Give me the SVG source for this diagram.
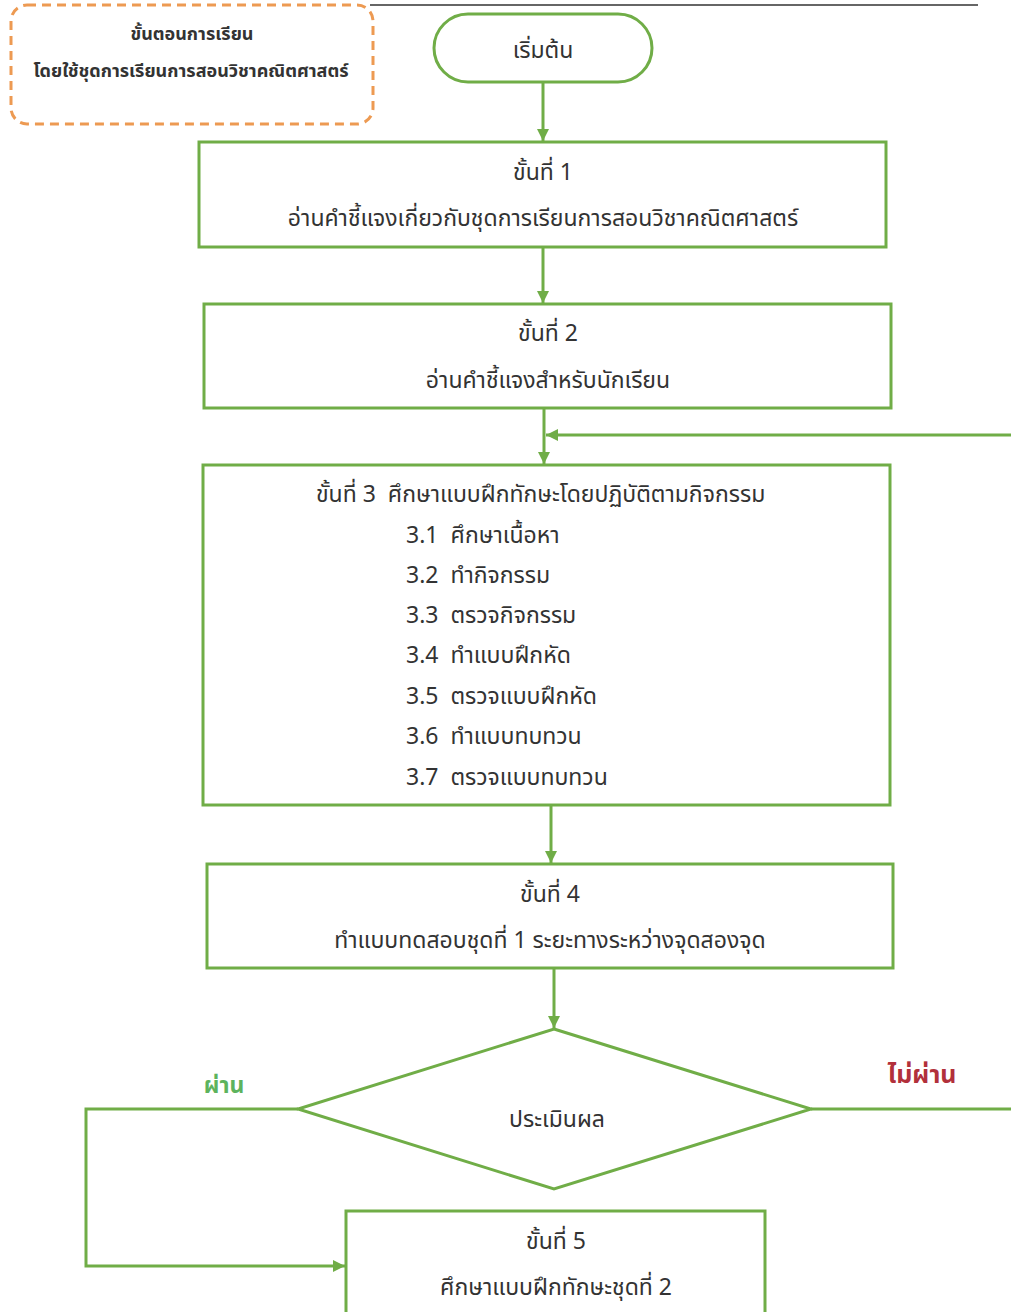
<svg xmlns="http://www.w3.org/2000/svg" width="1011" height="1312" viewBox="0 0 1011 1312">
<style>
.box{fill:none;stroke:#70AD47;stroke-width:3}
.ln{fill:none;stroke:#70AD47;stroke-width:3}
.t{font-family:"Noto Sans Thai","Noto Sans","DejaVu Sans",sans-serif;font-size:23px;fill:#333;}
.c{text-anchor:middle}
.h{font-family:"Noto Sans Thai","Noto Sans","DejaVu Sans",sans-serif;font-size:18px;font-weight:bold;fill:#333;text-anchor:middle}
</style>
<defs>
<marker id="ah" viewBox="0 0 10 10" refX="10" refY="5" markerWidth="4" markerHeight="4" orient="auto" markerUnits="strokeWidth">
<path d="M0,0 L10,5 L0,10 z" fill="#70AD47"/>
</marker>
</defs>
<rect width="1011" height="1312" fill="#fff"/>
<line x1="370" y1="5" x2="978" y2="5" stroke="#666" stroke-width="2"/>
<g id="title">
<rect x="11" y="5" width="362" height="119" rx="16" fill="none" stroke="#ED9A52" stroke-width="3" stroke-dasharray="9,6"/>
<text class="h" x="192" y="40">ขั้นตอนการเรียน</text>
<text class="h" x="191" y="77">โดยใช้ชุดการเรียนการสอนวิชาคณิตศาสตร์</text>
</g>
<g id="connectors">
<line class="ln" x1="543" y1="82" x2="543" y2="141" marker-end="url(#ah)"/>
<line class="ln" x1="543" y1="247" x2="543" y2="303" marker-end="url(#ah)"/>
<line class="ln" x1="544" y1="408" x2="544" y2="464" marker-end="url(#ah)"/>
<line class="ln" x1="1011" y1="435" x2="546" y2="435" marker-end="url(#ah)"/>
<line class="ln" x1="551" y1="805" x2="551" y2="863" marker-end="url(#ah)"/>
<line class="ln" x1="554" y1="968" x2="554" y2="1028" marker-end="url(#ah)"/>
<polyline class="ln" points="298,1109 86,1109 86,1266 345,1266" marker-end="url(#ah)"/>
<line class="ln" x1="811" y1="1109" x2="1011" y2="1109"/>
<text x="224" y="1093" font-family="Noto Sans Thai,Noto Sans,sans-serif" font-size="23" font-weight="bold" fill="#5DB35D" text-anchor="middle">ผ่าน</text>
<text x="922" y="1083" font-family="Noto Sans Thai,Noto Sans,sans-serif" font-size="25" font-weight="bold" fill="#B2303B" text-anchor="middle">ไม่ผ่าน</text>
</g>
<g id="start">
<rect class="box" x="434" y="14" width="218" height="68" rx="34"/>
<text class="t c" x="543" y="58" font-size="26">เริ่มต้น</text>
</g>
<g id="step1">
<rect class="box" x="199" y="142" width="687" height="105"/>
<text class="t c" x="543" y="180">ขั้นที่ 1</text>
<text class="t c" x="543" y="226">อ่านคำชี้แจงเกี่ยวกับชุดการเรียนการสอนวิชาคณิตศาสตร์</text>
</g>
<g id="step2">
<rect class="box" x="204" y="304" width="687" height="104"/>
<text class="t c" x="548" y="341">ขั้นที่ 2</text>
<text class="t c" x="548" y="388">อ่านคำชี้แจงสำหรับนักเรียน</text>
</g>
<g id="step3">
<rect class="box" x="203" y="465" width="687" height="340"/>
<text class="t" x="316" y="502" xml:space="preserve">ขั้นที่ 3  ศึกษาแบบฝึกทักษะโดยปฏิบัติตามกิจกรรม</text>
<text class="t" x="406" y="543" xml:space="preserve">3.1  ศึกษาเนื้อหา</text>
<text class="t" x="406" y="583" xml:space="preserve">3.2  ทำกิจกรรม</text>
<text class="t" x="406" y="623" xml:space="preserve">3.3  ตรวจกิจกรรม</text>
<text class="t" x="406" y="663" xml:space="preserve">3.4  ทำแบบฝึกหัด</text>
<text class="t" x="406" y="704" xml:space="preserve">3.5  ตรวจแบบฝึกหัด</text>
<text class="t" x="406" y="744" xml:space="preserve">3.6  ทำแบบทบทวน</text>
<text class="t" x="406" y="785" xml:space="preserve">3.7  ตรวจแบบทบทวน</text>
</g>
<g id="step4">
<rect class="box" x="207" y="864" width="686" height="104"/>
<text class="t c" x="550" y="902">ขั้นที่ 4</text>
<text class="t c" x="550" y="948">ทำแบบทดสอบชุดที่ 1 ระยะทางระหว่างจุดสองจุด</text>
</g>
<g id="evaluate">
<polygon class="box" points="554,1029 811,1109 554,1189 298,1109"/>
<text class="t c" x="557" y="1127">ประเมินผล</text>
</g>
<g id="step5">
<rect class="box" x="346" y="1211" width="419" height="110"/>
<text class="t c" x="556" y="1249">ขั้นที่ 5</text>
<text class="t c" x="556" y="1295">ศึกษาแบบฝึกทักษะชุดที่ 2</text>
</g>
</svg>
